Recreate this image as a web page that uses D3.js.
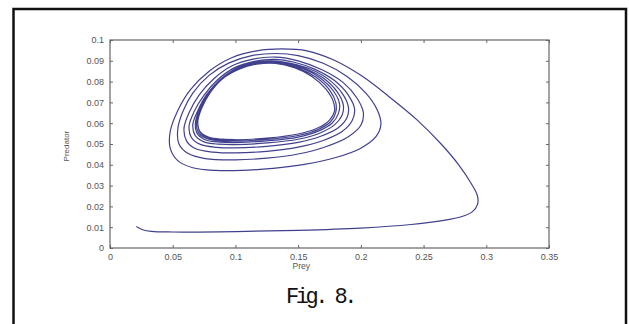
<!DOCTYPE html>
<html>
<head>
<meta charset="utf-8">
<script src="https://cdn.jsdelivr.net/npm/d3@7"></script>
<style>
  body { margin: 0; background: #fff; }
  svg { display: block; }
</style>
</head>
<body>
<div id="chart"></div>
<script>
// Ticks
var xTicks = [0, 0.05, 0.1, 0.15, 0.2, 0.25, 0.3, 0.35];
var xTickLabels = ['0', '0.05', '0.1', '0.15', '0.2', '0.25', '0.3', '0.35'];
var yTicks = [0, 0.01, 0.02, 0.03, 0.04, 0.05, 0.06, 0.07, 0.08, 0.09, 0.1];
var yTickLabels = ['0', '0.01', '0.02', '0.03', '0.04', '0.05', '0.06', '0.07', '0.08', '0.09', '0.1'];

// Trajectory [prey, predator]
var tail = [[0.021,0.0103],[0.026,0.0088],[0.033,0.0080],[0.05,0.0077],[0.1,0.0079],[0.15,0.0085],[0.2,0.0096],[0.24,0.0113],[0.265,0.0132],[0.28,0.0150],[0.289,0.0175],[0.293,0.0210],[0.293,0.0250],[0.288,0.0310],[0.278,0.0400],[0.264,0.0500],[0.245,0.0615],[0.222,0.0730],[0.200,0.0830],[0.178,0.0905],[0.157,0.0948],[0.137,0.0957],[0.117,0.0948],[0.097,0.0915],[0.079,0.0850],[0.064,0.0760],[0.054,0.0660],[0.048,0.0560],[0.048,0.0480],[0.054,0.0420],[0.066,0.0386],[0.084,0.0373]];
var loop1 = [[0.105,0.0373],[0.13,0.0383],[0.155,0.0402],[0.18,0.0435],[0.2,0.0480],[0.212,0.0535],[0.216,0.0595],[0.213,0.0665],[0.204,0.0745],[0.189,0.0825],[0.170,0.0888],[0.150,0.0925],[0.132,0.0935],[0.113,0.0925],[0.095,0.0890],[0.079,0.0830],[0.066,0.0745],[0.058,0.0655],[0.054,0.0570],[0.055,0.0500],[0.062,0.0455],[0.076,0.0430]];
var loop2 = [[0.1,0.0424],[0.125,0.0432],[0.15,0.0452],[0.172,0.0487],[0.19,0.0535],[0.2,0.0590],[0.202,0.0650],[0.197,0.0720],[0.186,0.0795],[0.169,0.0857],[0.150,0.0900],[0.132,0.0918],[0.114,0.0908],[0.097,0.0875],[0.083,0.0815],[0.071,0.0735],[0.063,0.0650],[0.059,0.0575],[0.061,0.0515],[0.068,0.0478],[0.082,0.0461]];
var loop3 = [[0.1,0.0457],[0.125,0.0465],[0.15,0.0485],[0.17,0.0517],[0.185,0.0560],[0.193,0.0612],[0.195,0.0668],[0.190,0.0735],[0.179,0.0805],[0.163,0.0860],[0.147,0.0893],[0.131,0.0907],[0.115,0.0897],[0.099,0.0866],[0.086,0.0810],[0.075,0.0735],[0.067,0.0655],[0.063,0.0585],[0.065,0.0530],[0.072,0.0498],[0.085,0.0484]];
var loop4 = [[0.1,0.0481],[0.125,0.0489],[0.15,0.0508],[0.168,0.0537],[0.182,0.0578],[0.189,0.0627],[0.190,0.0680],[0.185,0.0745],[0.174,0.0812],[0.159,0.0862],[0.144,0.0888],[0.130,0.0900],[0.115,0.0891],[0.100,0.0862],[0.088,0.0810],[0.077,0.0737],[0.070,0.0660],[0.066,0.0592],[0.068,0.0540],[0.075,0.0510],[0.087,0.0499]];
var loop5 = [[0.1,0.0497],[0.125,0.0505],[0.15,0.0523],[0.167,0.0552],[0.179,0.0592],[0.185,0.0638],[0.186,0.0688],[0.181,0.0752],[0.170,0.0817],[0.156,0.0862],[0.142,0.0886],[0.129,0.0895],[0.115,0.0887],[0.101,0.0860],[0.089,0.0810],[0.078,0.0740],[0.071,0.0662],[0.068,0.0596],[0.070,0.0546],[0.077,0.0518],[0.088,0.0509]];
var loop6 = [[0.1,0.0507],[0.125,0.0515],[0.15,0.0533],[0.166,0.0562],[0.177,0.0600],[0.182,0.0645],[0.183,0.0693],[0.178,0.0756],[0.167,0.0820],[0.153,0.0864],[0.139,0.0886],[0.126,0.0892],[0.113,0.0884],[0.100,0.0858],[0.088,0.0810],[0.078,0.0742],[0.072,0.0665],[0.069,0.0600],[0.071,0.0551],[0.078,0.0524],[0.089,0.0515]];
var loop7 = [[0.1,0.0514],[0.125,0.0522],[0.15,0.0541],[0.166,0.0570],[0.176,0.0608],[0.180,0.0652],[0.180,0.0699],[0.175,0.0760],[0.164,0.0822],[0.150,0.0865],[0.136,0.0886],[0.123,0.0890],[0.110,0.0880],[0.098,0.0852],[0.087,0.0806],[0.078,0.0740],[0.072,0.0666],[0.070,0.0602],[0.072,0.0555],[0.079,0.0528],[0.090,0.0520]];
var loop8 = [[0.1,0.0520],[0.125,0.0528],[0.15,0.0548],[0.166,0.0578],[0.175,0.0615],[0.179,0.0658],[0.178,0.0705],[0.172,0.0765],[0.161,0.0825],[0.147,0.0867],[0.132,0.0888],[0.117,0.0884],[0.103,0.0860],[0.090,0.0815],[0.080,0.0748],[0.073,0.0670],[0.070,0.0605],[0.072,0.0558],[0.079,0.0532],[0.090,0.0523],[0.1,0.0521]];

var W = 629, H = 324;
var margin = {top: 40, right: 80, bottom: 76, left: 110};

var svg = d3.select('#chart').append('svg')
  .attr('width', W)
  .attr('height', H);

// outer frame of the picture (no bottom edge visible)
svg.append('path')
  .attr('d', 'M13.5,330 V9 H626 V330')
  .attr('fill', 'none')
  .attr('stroke', '#111')
  .attr('stroke-width', 2.5);

var x = d3.scaleLinear().domain([0, 0.35]).range([margin.left, W - margin.right]);
var y = d3.scaleLinear().domain([0, 0.1]).range([H - margin.bottom, margin.top]);

var axisColor = '#666';
var labelColor = '#555';
var labelFont = '"Liberation Sans", Arial, sans-serif';

// box
svg.append('rect')
  .attr('x', x(0)).attr('y', y(0.1))
  .attr('width', x(0.35) - x(0)).attr('height', y(0) - y(0.1))
  .attr('fill', 'none')
  .attr('stroke', axisColor)
  .attr('stroke-width', 1.2);

// axes, ticks pointing inside
var xAxis = d3.axisBottom(x).tickValues(xTicks).tickSize(-3).tickPadding(6)
  .tickFormat(function(d, i){ return xTickLabels[i]; });
var xTop = d3.axisTop(x).tickValues(xTicks).tickSize(-3).tickFormat('');
var yAxis = d3.axisLeft(y).tickValues(yTicks).tickSize(-3).tickPadding(6)
  .tickFormat(function(d, i){ return yTickLabels[i]; });
var yRight = d3.axisRight(y).tickValues(yTicks).tickSize(-3).tickFormat('');

var gx = svg.append('g').attr('transform', 'translate(0,' + y(0) + ')').call(xAxis);
var gxt = svg.append('g').attr('transform', 'translate(0,' + y(0.1) + ')').call(xTop);
var gy = svg.append('g').attr('transform', 'translate(' + x(0) + ',0)').call(yAxis);
var gyr = svg.append('g').attr('transform', 'translate(' + x(0.35) + ',0)').call(yRight);

[gx, gxt, gy, gyr].forEach(function(g){
  g.select('.domain').remove();
  g.selectAll('line').attr('stroke', axisColor);
  g.selectAll('text')
    .attr('fill', labelColor)
    .style('font-family', labelFont)
    .style('font-size', '9px');
});

// axis labels
svg.append('text')
  .attr('x', x(0.1525)).attr('y', 269)
  .attr('text-anchor', 'middle')
  .attr('fill', labelColor)
  .style('font-family', labelFont)
  .style('font-size', '8.5px')
  .text('Prey');

svg.append('text')
  .attr('transform', 'translate(69,' + y(0.049) + ') rotate(-90)')
  .attr('text-anchor', 'middle')
  .attr('fill', labelColor)
  .style('font-family', labelFont)
  .style('font-size', '8px')
  .text('Predator');

// trajectory
var trajectory = [].concat(tail, loop1, loop2, loop3, loop4, loop5, loop6, loop7, loop8);

var line = d3.line()
  .x(function(d){ return x(d[0]); })
  .y(function(d){ return y(d[1]); })
  .curve(d3.curveCatmullRom.alpha(0.5));

svg.append('path')
  .datum(trajectory)
  .attr('d', line)
  .attr('fill', 'none')
  .attr('stroke', '#40408e')
  .attr('stroke-width', 1.2);

// caption - typewriter look
svg.append('text')
  .attr('x', 320).attr('y', 303)
  .attr('text-anchor', 'middle')
  .attr('fill', '#111')
  .style('font-family', '"Liberation Mono", "DejaVu Sans Mono", monospace')
  .style('font-size', '22px')
  .style('letter-spacing', '-3.5px')
  .text('Fig. 8.');
</script>
</body>
</html>
